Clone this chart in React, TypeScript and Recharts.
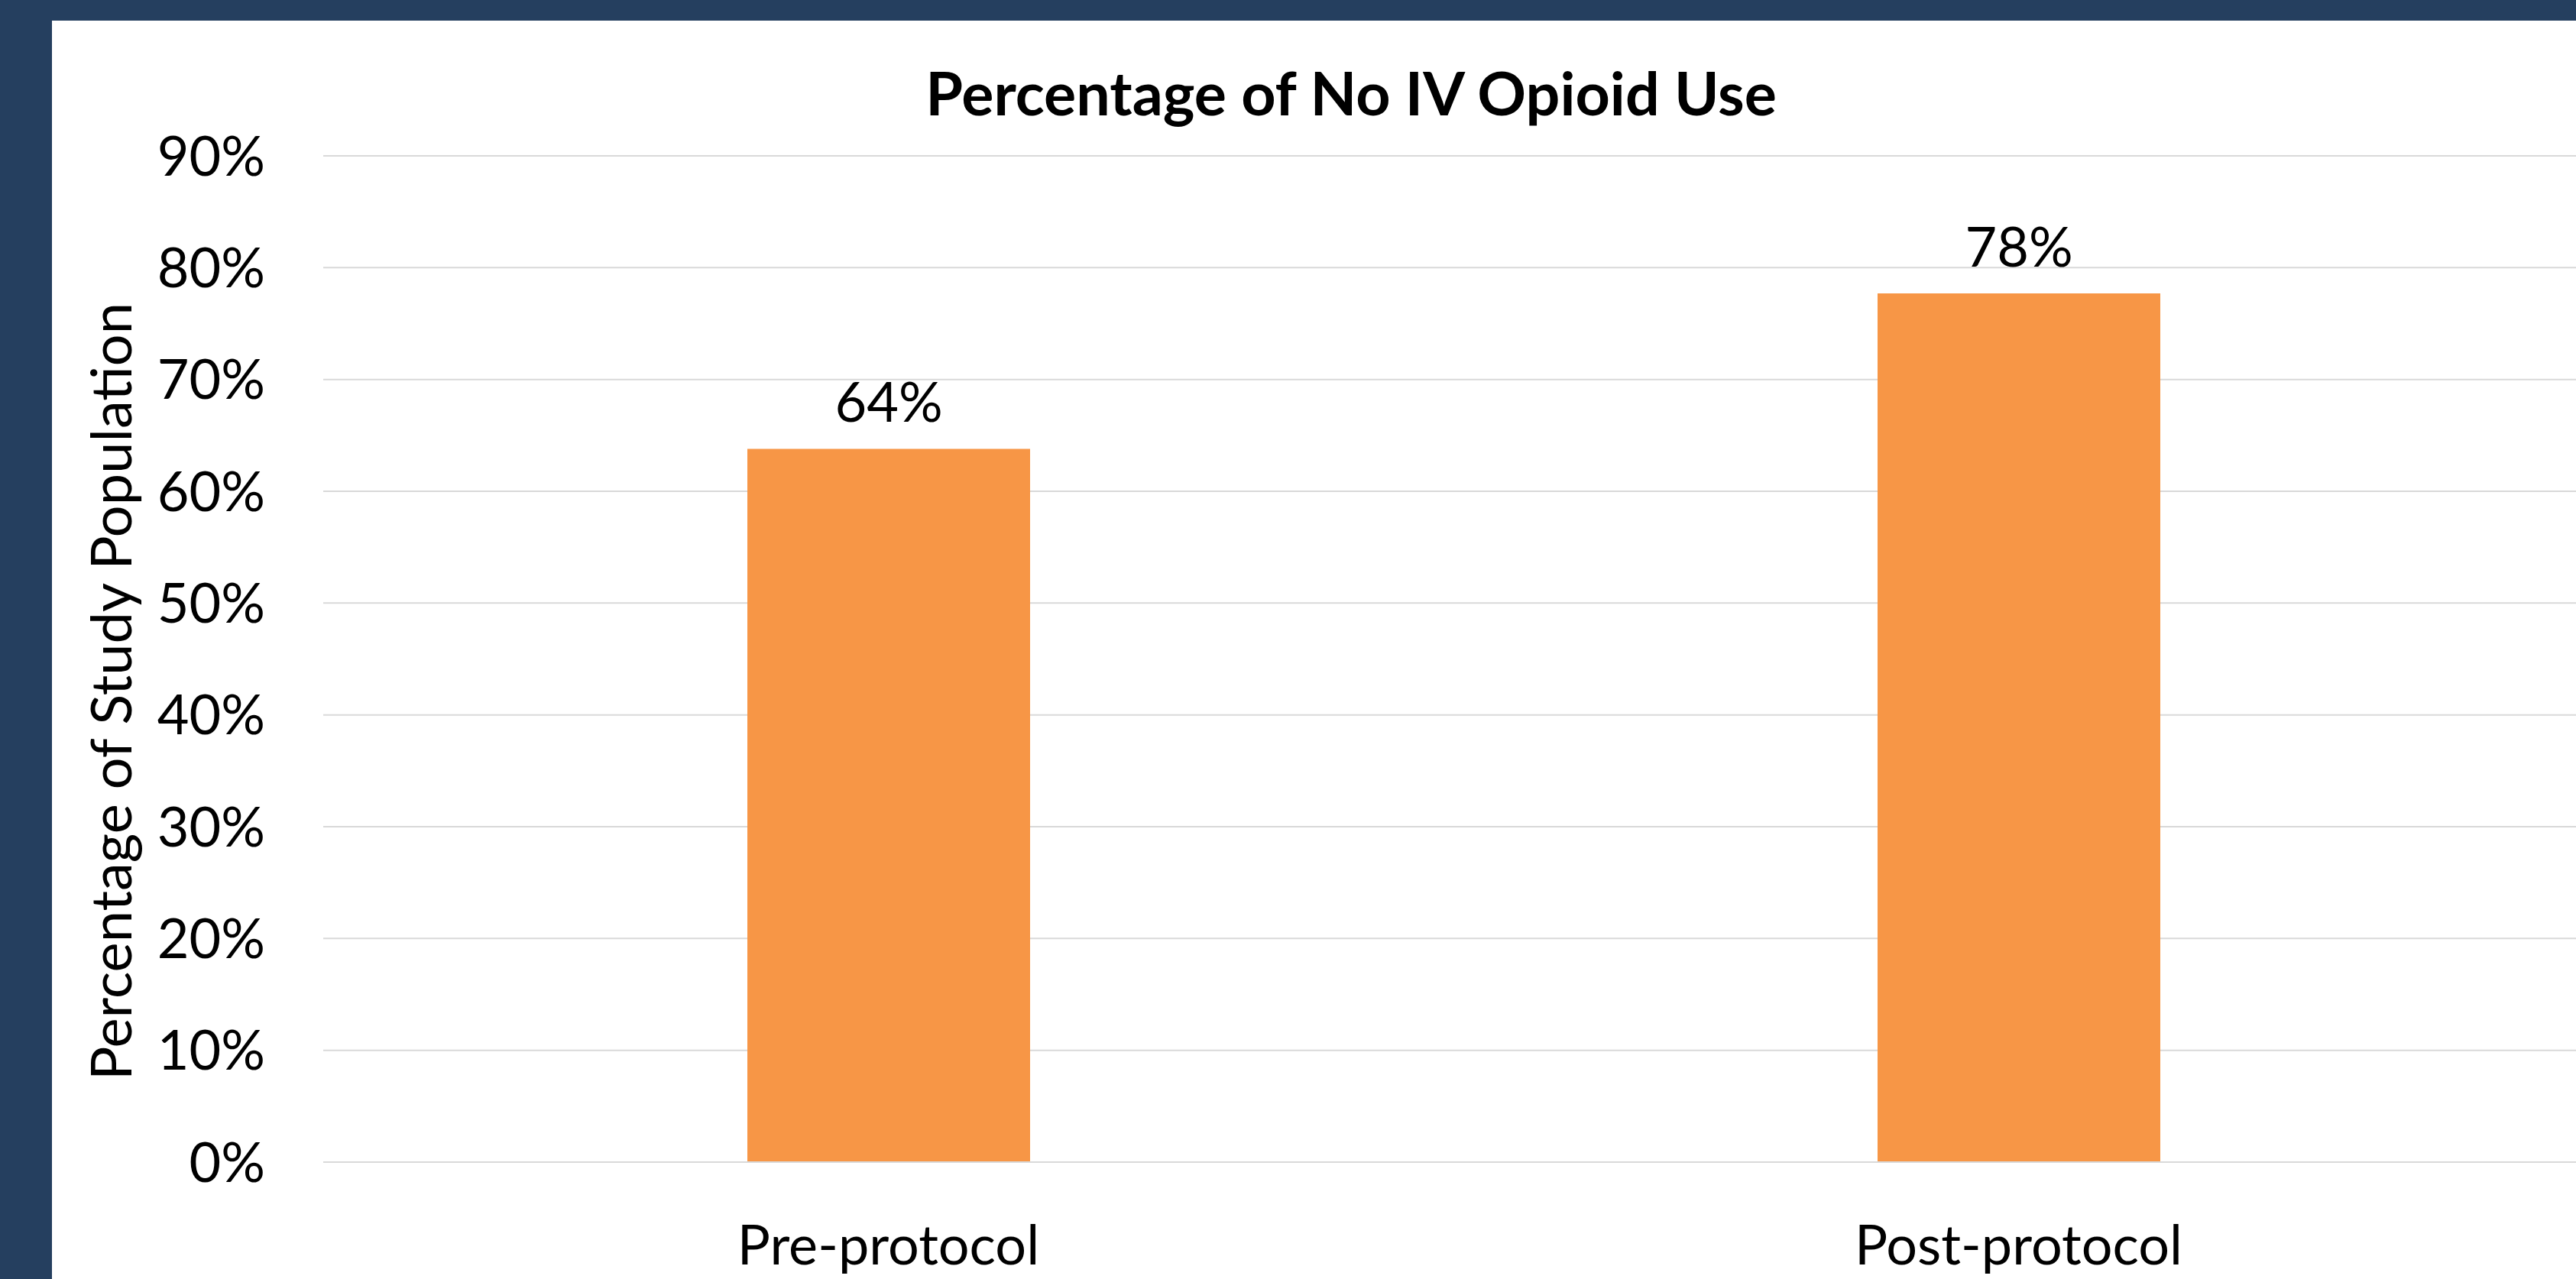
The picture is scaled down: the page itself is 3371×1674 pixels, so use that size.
import { BarChart, Bar, XAxis, YAxis, CartesianGrid, LabelList } from 'recharts';

const categories = ['Pre-protocol', 'Post-protocol'];
const noIvOpioidPct = [63.8, 77.7];
const yTicks = [0, 10, 20, 30, 40, 50, 60, 70, 80, 90];

const data = categories.map((name, i) => ({ name, value: noIvOpioidPct[i] }));

const FONT = 'Lato, "Open Sans", sans-serif';
const NAVY = '#253F5F';
const ORANGE = '#F79646';

export default function App() {
  return (
    <div
      style={{
        position: 'absolute',
        left: 0,
        top: 0,
        width: 3371,
        height: 1674,
        overflow: 'hidden',
        background: '#fff',
        fontFamily: FONT,
      }}
    >
      <BarChart
        width={3381}
        height={1674}
        data={data}
        margin={{ top: 204, right: 0, bottom: 0, left: 0 }}
      >
        <CartesianGrid vertical={false} stroke="#d9d9d9" strokeWidth={2} />
        <XAxis
          dataKey="name"
          height={153}
          tickLine={false}
          axisLine={{ stroke: '#d9d9d9', strokeWidth: 2 }}
          tickSize={0}
          tickMargin={83}
          tick={{ fill: '#000', fontSize: 72, fontFamily: FONT }}
        />
        <YAxis
          width={423}
          domain={[0, 90]}
          ticks={yTicks}
          tickFormatter={(v: number) => `${v}%`}
          axisLine={false}
          tickLine={false}
          tickSize={0}
          tickMargin={76}
          tick={{ fill: '#000', fontSize: 72, fontFamily: FONT }}
        />
        <Bar dataKey="value" fill={ORANGE} barSize={370} isAnimationActive={false}>
          <LabelList
            dataKey="value"
            position="top"
            offset={35}
            formatter={(v: number) => `${Math.round(v)}%`}
            style={{ fill: '#000', fontSize: 72, fontFamily: FONT }}
          />
        </Bar>
      </BarChart>

      {/* chart title */}
      <div
        style={{
          position: 'absolute',
          left: 0,
          width: 3536,
          top: 76,
          textAlign: 'center',
          fontSize: 79,
          fontWeight: 700,
          lineHeight: '90px',
          color: '#000',
          whiteSpace: 'nowrap',
        }}
      >
        Percentage of No IV Opioid Use
      </div>

      {/* y axis title */}
      <div
        style={{
          position: 'absolute',
          left: 144,
          top: 905,
          transform: 'translate(-50%, -50%) rotate(-90deg)',
          fontSize: 74,
          lineHeight: '90px',
          color: '#000',
          whiteSpace: 'nowrap',
        }}
      >
        Percentage of Study Population
      </div>

      {/* slide frame */}
      <div style={{ position: 'absolute', left: 0, top: 0, width: 3371, height: 27, background: NAVY }} />
      <div style={{ position: 'absolute', left: 0, top: 0, width: 68, height: 1674, background: NAVY }} />
    </div>
  );
}
